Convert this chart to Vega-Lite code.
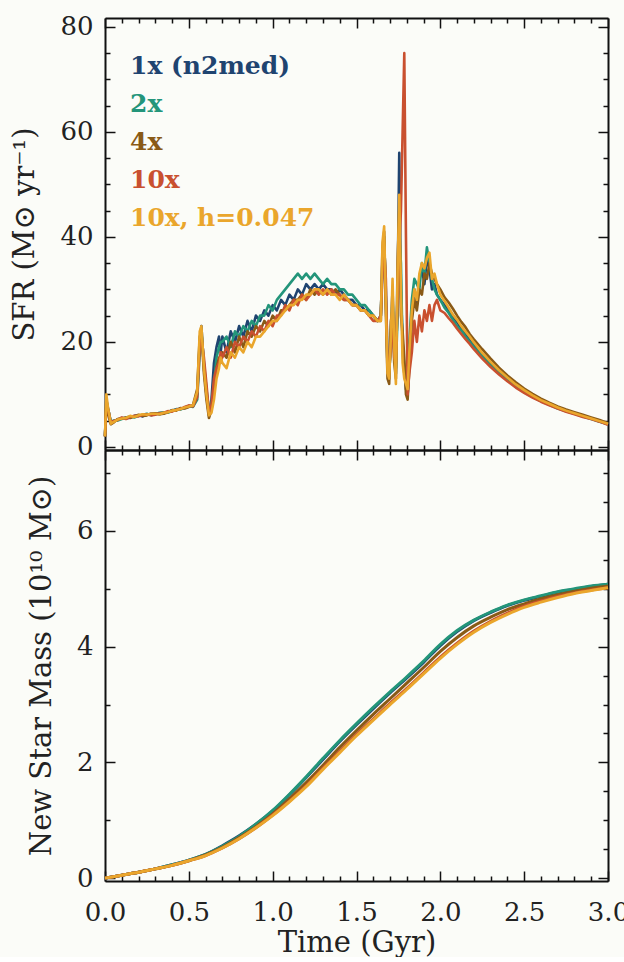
{
  "$schema": "https://vega.github.io/schema/vega-lite/v6.json",
  "background": "#fbfcf8",
  "padding": {"left": 10, "top": 13, "right": 0, "bottom": 0},
  "bounds": "flush",
  "spacing": 0,
  "config": {
    "view": {"stroke": null},
    "font": "DejaVu Serif",
    "axis": {
      "domainColor": "#111",
      "domainWidth": 2,
      "tickColor": "#111",
      "tickWidth": 1.5,
      "tickSize": -10,
      "grid": false,
      "labelFont": "DejaVu Serif",
      "labelFontSize": 26,
      "labelColor": "#222",
      "labelFlush": false,
      "labelOverlap": false,
      "titleFont": "DejaVu Serif",
      "titleFontSize": 29,
      "titleFontWeight": "normal",
      "titleColor": "#222"
    }
  },
  "datasets": {
    "sfr": [
      {"t":0,"a":2,"b":2,"c":2,"d":2,"e":2},
      {"t":0.008,"a":9,"b":8,"c":9,"d":8,"e":10},
      {"t":0.02,"a":7,"b":7,"c":6,"d":7,"e":7},
      {"t":0.035,"a":4.5,"b":4.8,"c":4.3,"d":4.6,"e":4.4},
      {"t":0.05,"a":4.8,"b":5,"c":4.6,"d":4.9,"e":4.7},
      {"t":0.075,"a":5.2,"b":5.0,"c":5.3,"d":5.1,"e":5.2},
      {"t":0.1,"a":5.5,"b":5.3,"c":5.4,"d":5.6,"e":5.4},
      {"t":0.125,"a":5.4,"b":5.6,"c":5.6,"d":5.3,"e":5.5},
      {"t":0.15,"a":5.6,"b":5.8,"c":5.5,"d":5.7,"e":5.9},
      {"t":0.175,"a":5.9,"b":5.6,"c":5.8,"d":5.9,"e":5.7},
      {"t":0.2,"a":6.0,"b":5.9,"c":6.1,"d":5.8,"e":6.0},
      {"t":0.225,"a":5.8,"b":6.1,"c":5.9,"d":6.1,"e":6.2},
      {"t":0.25,"a":6.1,"b":6.3,"c":6.0,"d":6.2,"e":6.1},
      {"t":0.275,"a":6.3,"b":6.0,"c":6.3,"d":6.0,"e":6.3},
      {"t":0.3,"a":6.3,"b":6.2,"c":6.4,"d":6.1,"e":6.3},
      {"t":0.325,"a":6.2,"b":6.5,"c":6.2,"d":6.4,"e":6.2},
      {"t":0.35,"a":6.4,"b":6.6,"c":6.3,"d":6.5,"e":6.5},
      {"t":0.375,"a":6.7,"b":6.5,"c":6.6,"d":6.8,"e":6.6},
      {"t":0.4,"a":6.9,"b":6.8,"c":7.0,"d":6.7,"e":6.9},
      {"t":0.425,"a":7.1,"b":7.2,"c":6.9,"d":7.1,"e":7.0},
      {"t":0.45,"a":7.3,"b":7.1,"c":7.4,"d":7.2,"e":7.2},
      {"t":0.475,"a":7.4,"b":7.5,"c":7.3,"d":7.6,"e":7.5},
      {"t":0.5,"a":7.7,"b":7.8,"c":7.6,"d":7.9,"e":7.7},
      {"t":0.525,"a":7.8,"b":7.6,"c":8.0,"d":7.7,"e":7.9},
      {"t":0.55,"a":10,"b":9,"c":11,"d":9.5,"e":10.5},
      {"t":0.565,"a":20,"b":18,"c":21,"d":19,"e":22},
      {"t":0.575,"a":23,"b":22,"c":22,"d":21,"e":23},
      {"t":0.59,"a":15,"b":16,"c":14,"d":17,"e":15},
      {"t":0.605,"a":10,"b":11,"c":9,"d":12,"e":10},
      {"t":0.62,"a":6,"b":7,"c":5.5,"d":6.5,"e":6},
      {"t":0.635,"a":9,"b":8,"c":7,"d":8,"e":6.5},
      {"t":0.65,"a":16,"b":12,"c":11,"d":13,"e":9},
      {"t":0.665,"a":19,"b":17,"c":15,"d":15,"e":13},
      {"t":0.68,"a":21,"b":19,"c":17,"d":16,"e":15},
      {"t":0.69,"a":18,"b":20,"c":16,"d":18,"e":17},
      {"t":0.7,"a":21,"b":20,"c":18,"d":17,"e":16},
      {"t":0.725,"a":18,"b":21,"c":17,"d":19,"e":15},
      {"t":0.75,"a":22,"b":19,"c":20,"d":17,"e":18},
      {"t":0.775,"a":20,"b":22,"c":18,"d":20,"e":17},
      {"t":0.8,"a":23,"b":21,"c":21,"d":19,"e":19},
      {"t":0.825,"a":21,"b":23,"c":19,"d":21,"e":18},
      {"t":0.85,"a":24,"b":22,"c":22,"d":20,"e":20},
      {"t":0.875,"a":22,"b":24,"c":21,"d":22,"e":19},
      {"t":0.9,"a":25,"b":23,"c":23,"d":21,"e":21},
      {"t":0.925,"a":24,"b":25,"c":22,"d":23,"e":21},
      {"t":0.95,"a":26,"b":25,"c":24,"d":22,"e":22},
      {"t":0.975,"a":25,"b":27,"c":23,"d":24,"e":23},
      {"t":1.0,"a":27,"b":26,"c":25,"d":23,"e":24},
      {"t":1.025,"a":26,"b":28,"c":24,"d":25,"e":24},
      {"t":1.05,"a":28,"b":29,"c":26,"d":25,"e":25},
      {"t":1.075,"a":27,"b":30,"c":26,"d":27,"e":26},
      {"t":1.1,"a":29,"b":31,"c":27,"d":26,"e":27},
      {"t":1.125,"a":28,"b":32,"c":28,"d":28,"e":27},
      {"t":1.15,"a":30,"b":33,"c":28,"d":27,"e":28},
      {"t":1.175,"a":29,"b":32,"c":29,"d":29,"e":28},
      {"t":1.2,"a":31,"b":33,"c":28,"d":28,"e":29},
      {"t":1.225,"a":30,"b":32,"c":30,"d":29,"e":29},
      {"t":1.25,"a":31,"b":33,"c":29,"d":30,"e":30},
      {"t":1.275,"a":30,"b":32,"c":30,"d":29,"e":30},
      {"t":1.3,"a":31,"b":31,"c":29,"d":30,"e":29},
      {"t":1.325,"a":30,"b":32,"c":30,"d":29,"e":30},
      {"t":1.35,"a":30,"b":31,"c":29,"d":30,"e":29},
      {"t":1.375,"a":29,"b":31,"c":30,"d":29,"e":29},
      {"t":1.4,"a":30,"b":30,"c":29,"d":29,"e":28},
      {"t":1.425,"a":29,"b":30,"c":28,"d":28,"e":29},
      {"t":1.45,"a":28,"b":29,"c":28,"d":28,"e":28},
      {"t":1.475,"a":28,"b":29,"c":27,"d":27,"e":27},
      {"t":1.5,"a":27,"b":28,"c":27,"d":27,"e":27},
      {"t":1.525,"a":27,"b":27,"c":26,"d":26,"e":26},
      {"t":1.55,"a":26,"b":27,"c":26,"d":26,"e":26},
      {"t":1.575,"a":26,"b":26,"c":25,"d":25,"e":25},
      {"t":1.6,"a":25,"b":25,"c":25,"d":24,"e":25},
      {"t":1.625,"a":24,"b":24,"c":24,"d":24,"e":24},
      {"t":1.645,"a":25,"b":25,"c":24,"d":25,"e":24},
      {"t":1.655,"a":36,"b":34,"c":38,"d":33,"e":39},
      {"t":1.665,"a":40,"b":39,"c":41,"d":38,"e":42},
      {"t":1.675,"a":28,"b":30,"c":26,"d":32,"e":27},
      {"t":1.685,"a":15,"b":17,"c":13,"d":16,"e":14},
      {"t":1.695,"a":13,"b":14,"c":12,"d":15,"e":13},
      {"t":1.705,"a":22,"b":20,"c":24,"d":19,"e":21},
      {"t":1.715,"a":30,"b":28,"c":26,"d":27,"e":32},
      {"t":1.725,"a":18,"b":21,"c":16,"d":17,"e":19},
      {"t":1.735,"a":14,"b":15,"c":13,"d":16,"e":12},
      {"t":1.745,"a":30,"b":25,"c":35,"d":28,"e":33},
      {"t":1.755,"a":56,"b":40,"c":45,"d":38,"e":48},
      {"t":1.765,"a":30,"b":35,"c":25,"d":45,"e":30},
      {"t":1.775,"a":20,"b":18,"c":22,"d":60,"e":16},
      {"t":1.785,"a":15,"b":14,"c":17,"d":75,"e":13},
      {"t":1.795,"a":11,"b":13,"c":10,"d":40,"e":12},
      {"t":1.805,"a":10,"b":12,"c":9,"d":10,"e":11},
      {"t":1.815,"a":16,"b":20,"c":15,"d":14,"e":18},
      {"t":1.83,"a":25,"b":28,"c":24,"d":18,"e":26},
      {"t":1.845,"a":30,"b":32,"c":28,"d":24,"e":30},
      {"t":1.86,"a":27,"b":31,"c":26,"d":20,"e":28},
      {"t":1.875,"a":32,"b":30,"c":30,"d":25,"e":33},
      {"t":1.89,"a":34,"b":35,"c":29,"d":22,"e":35},
      {"t":1.905,"a":31,"b":33,"c":33,"d":26,"e":34},
      {"t":1.92,"a":36,"b":38,"c":32,"d":24,"e":36},
      {"t":1.935,"a":34,"b":35,"c":35,"d":27,"e":37},
      {"t":1.95,"a":30,"b":32,"c":33,"d":24,"e":32},
      {"t":1.965,"a":31,"b":30,"c":32,"d":27,"e":33},
      {"t":1.98,"a":29,"b":29,"c":31,"d":28,"e":31},
      {"t":2.0,"a":28,"b":28,"c":30,"d":26,"e":29},
      {"t":2.025,"a":27,"b":26.5,"c":28.5,"d":25.5,"e":27.8},
      {"t":2.05,"a":26,"b":25.5,"c":27.5,"d":24.5,"e":26.5},
      {"t":2.075,"a":24.8,"b":24.2,"c":26.3,"d":23.6,"e":25.2},
      {"t":2.1,"a":23.8,"b":23,"c":25,"d":22.5,"e":24.2},
      {"t":2.125,"a":22.5,"b":22.2,"c":23.8,"d":21.5,"e":23},
      {"t":2.15,"a":21.4,"b":21,"c":22.8,"d":20.5,"e":22},
      {"t":2.175,"a":20.5,"b":20,"c":21.5,"d":19.6,"e":21},
      {"t":2.2,"a":19.4,"b":19,"c":20.5,"d":18.6,"e":19.9},
      {"t":2.25,"a":17.5,"b":17.2,"c":18.6,"d":16.8,"e":17.9},
      {"t":2.3,"a":15.8,"b":15.5,"c":16.8,"d":15.2,"e":16.2},
      {"t":2.35,"a":14.3,"b":14,"c":15.1,"d":13.8,"e":14.6},
      {"t":2.4,"a":12.9,"b":12.7,"c":13.6,"d":12.5,"e":13.2},
      {"t":2.45,"a":11.7,"b":11.5,"c":12.3,"d":11.3,"e":11.9},
      {"t":2.5,"a":10.6,"b":10.4,"c":11.1,"d":10.3,"e":10.8},
      {"t":2.55,"a":9.7,"b":9.5,"c":10.1,"d":9.4,"e":9.8},
      {"t":2.6,"a":8.8,"b":8.7,"c":9.2,"d":8.6,"e":8.9},
      {"t":2.65,"a":8.1,"b":8.0,"c":8.4,"d":7.9,"e":8.2},
      {"t":2.7,"a":7.5,"b":7.3,"c":7.7,"d":7.3,"e":7.5},
      {"t":2.75,"a":6.9,"b":6.8,"c":7.1,"d":6.7,"e":6.9},
      {"t":2.8,"a":6.4,"b":6.3,"c":6.6,"d":6.2,"e":6.4},
      {"t":2.85,"a":5.9,"b":5.8,"c":6.1,"d":5.7,"e":5.9},
      {"t":2.9,"a":5.4,"b":5.3,"c":5.6,"d":5.3,"e":5.4},
      {"t":2.95,"a":4.9,"b":4.8,"c":5.1,"d":4.8,"e":4.9},
      {"t":3.0,"a":4.3,"b":4.3,"c":4.5,"d":4.2,"e":4.4}
    ],
    "mass": [
      {"t":0.0,"a":0,"b":0,"c":0,"d":0,"e":0},
      {"t":0.1,"a":0.05,"b":0.05,"c":0.05,"d":0.05,"e":0.05},
      {"t":0.2,"a":0.1,"b":0.1,"c":0.1,"d":0.1,"e":0.1},
      {"t":0.3,"a":0.16,"b":0.16,"c":0.16,"d":0.16,"e":0.16},
      {"t":0.4,"a":0.23,"b":0.23,"c":0.22,"d":0.22,"e":0.22},
      {"t":0.5,"a":0.31,"b":0.31,"c":0.30,"d":0.30,"e":0.30},
      {"t":0.6,"a":0.41,"b":0.41,"c":0.40,"d":0.39,"e":0.39},
      {"t":0.7,"a":0.56,"b":0.55,"c":0.53,"d":0.52,"e":0.52},
      {"t":0.8,"a":0.73,"b":0.72,"c":0.70,"d":0.68,"e":0.68},
      {"t":0.9,"a":0.93,"b":0.93,"c":0.89,"d":0.87,"e":0.87},
      {"t":1.0,"a":1.16,"b":1.17,"c":1.11,"d":1.09,"e":1.08},
      {"t":1.1,"a":1.44,"b":1.45,"c":1.37,"d":1.33,"e":1.32},
      {"t":1.2,"a":1.74,"b":1.75,"c":1.65,"d":1.60,"e":1.58},
      {"t":1.3,"a":2.05,"b":2.07,"c":1.95,"d":1.90,"e":1.88},
      {"t":1.4,"a":2.36,"b":2.38,"c":2.26,"d":2.19,"e":2.17},
      {"t":1.5,"a":2.65,"b":2.67,"c":2.55,"d":2.48,"e":2.46},
      {"t":1.6,"a":2.93,"b":2.95,"c":2.83,"d":2.75,"e":2.73},
      {"t":1.7,"a":3.20,"b":3.22,"c":3.10,"d":3.02,"e":3.00},
      {"t":1.8,"a":3.46,"b":3.48,"c":3.37,"d":3.28,"e":3.26},
      {"t":1.9,"a":3.73,"b":3.75,"c":3.64,"d":3.55,"e":3.53},
      {"t":2.0,"a":4.02,"b":4.04,"c":3.92,"d":3.82,"e":3.80},
      {"t":2.1,"a":4.26,"b":4.28,"c":4.16,"d":4.06,"e":4.04},
      {"t":2.2,"a":4.45,"b":4.46,"c":4.36,"d":4.27,"e":4.25},
      {"t":2.3,"a":4.59,"b":4.60,"c":4.51,"d":4.44,"e":4.42},
      {"t":2.4,"a":4.71,"b":4.72,"c":4.64,"d":4.58,"e":4.56},
      {"t":2.5,"a":4.80,"b":4.81,"c":4.74,"d":4.70,"e":4.68},
      {"t":2.6,"a":4.87,"b":4.88,"c":4.83,"d":4.79,"e":4.77},
      {"t":2.7,"a":4.94,"b":4.95,"c":4.90,"d":4.87,"e":4.85},
      {"t":2.8,"a":4.99,"b":5.00,"c":4.96,"d":4.93,"e":4.92},
      {"t":2.9,"a":5.04,"b":5.05,"c":5.01,"d":4.98,"e":4.97},
      {"t":3.0,"a":5.08,"b":5.08,"c":5.05,"d":5.02,"e":5.02}
    ]
  },
  "resolve": {"scale": {"color": "independent"}, "legend": {"color": "independent"}},
  "vconcat": [
    {
      "width": 503,
      "height": 432,
      "data": {"name": "sfr"},
      "transform": [{"fold": ["a", "b", "c", "d", "e"], "as": ["series", "v"]}],
      "resolve": {"scale": {"x": "independent", "y": "independent"}},
      "layer": [
        {
          "mark": {"type": "line", "strokeWidth": 2.6, "strokeJoin": "round"},
          "encoding": {
            "x": {"field": "t", "type": "quantitative", "scale": {"domain": [0, 3], "nice": false, "zero": false},
              "axis": {"orient": "bottom", "title": null, "labels": false,
                "values": [0,0.1,0.2,0.3,0.4,0.5,0.6,0.7,0.8,0.9,1,1.1,1.2,1.3,1.4,1.5,1.6,1.7,1.8,1.9,2,2.1,2.2,2.3,2.4,2.5,2.6,2.7,2.8,2.9,3],
                "tickDash": {"condition": {"test": "abs(datum.value*2-round(datum.value*2))<0.001", "value": [20, 0]}, "value": [5, 100]}}},
            "y": {"field": "v", "type": "quantitative", "scale": {"domain": [-0.6, 81.7], "nice": false, "zero": false},
              "axis": {"orient": "left", "title": "SFR (M⊙ yr⁻¹)", "titlePadding": 20, "format": "d", "labelPadding": 22,
                "values": [0,5,10,15,20,25,30,35,40,45,50,55,60,65,70,75,80],
                "labelExpr": "datum.value % 20 === 0 ? datum.label : ''",
                "tickDash": {"condition": {"test": "datum.value % 20 === 0", "value": [20, 0]}, "value": [5, 100]}}},
            "color": {"field": "series", "type": "nominal",
              "scale": {"domain": ["a", "b", "c", "d", "e"], "range": ["#1f4470", "#23957a", "#8a5a16", "#c9502f", "#eaa62c"]},
              "legend": {
                "orient": "none", "legendX": 0, "legendY": 35, "title": null, "padding": 0,
                "symbolSize": 0, "symbolOpacity": 0, "symbolStrokeWidth": 0, "labelOffset": 0,
                "labelFont": "DejaVu Serif", "labelFontSize": 25, "labelFontWeight": "bold",
                "rowPadding": 12, "labelLimit": 400,
                "labelExpr": "{'a':'1x (n2med)','b':'2x','c':'4x','d':'10x','e':'10x, h=0.047'}[datum.label]",
                "encode": {"labels": {"update": {"fill": {"signal": "datum.value==='a'?'#1f4470':datum.value==='b'?'#23957a':datum.value==='c'?'#8a5a16':datum.value==='d'?'#c9502f':'#eaa62c'"}}}}
              }}
          }
        },
        {
          "mark": {"type": "line", "opacity": 0},
          "encoding": {
            "detail": {"field": "series"},
            "x": {"field": "t", "type": "quantitative", "scale": {"domain": [0, 3], "nice": false, "zero": false},
              "axis": {"orient": "top", "title": null, "labels": false,
                "values": [0,0.1,0.2,0.3,0.4,0.5,0.6,0.7,0.8,0.9,1,1.1,1.2,1.3,1.4,1.5,1.6,1.7,1.8,1.9,2,2.1,2.2,2.3,2.4,2.5,2.6,2.7,2.8,2.9,3],
                "tickDash": {"condition": {"test": "abs(datum.value*2-round(datum.value*2))<0.001", "value": [20, 0]}, "value": [5, 100]}}},
            "y": {"field": "v", "type": "quantitative", "scale": {"domain": [-0.6, 81.7], "nice": false, "zero": false},
              "axis": {"orient": "right", "title": null, "labels": false,
                "values": [0,5,10,15,20,25,30,35,40,45,50,55,60,65,70,75,80],
                "tickDash": {"condition": {"test": "datum.value % 20 === 0", "value": [20, 0]}, "value": [5, 100]}}}
          }
        }
      ]
    },
    {
      "width": 503,
      "height": 431,
      "data": {"name": "mass"},
      "transform": [{"fold": ["a", "b", "c", "d", "e"], "as": ["series", "v"]}],
      "resolve": {"scale": {"x": "independent", "y": "independent"}},
      "layer": [
        {
          "mark": {"type": "line", "strokeWidth": 3, "interpolate": "monotone"},
          "encoding": {
            "x": {"field": "t", "type": "quantitative", "scale": {"domain": [0, 3], "nice": false, "zero": false},
              "axis": {"orient": "bottom", "title": "Time (Gyr)", "titlePadding": 3, "format": ".1f", "labelPadding": 28,
                "values": [0,0.1,0.2,0.3,0.4,0.5,0.6,0.7,0.8,0.9,1,1.1,1.2,1.3,1.4,1.5,1.6,1.7,1.8,1.9,2,2.1,2.2,2.3,2.4,2.5,2.6,2.7,2.8,2.9,3],
                "labelExpr": "abs(datum.value*2-round(datum.value*2))<0.001 ? datum.label : ''",
                "tickDash": {"condition": {"test": "abs(datum.value*2-round(datum.value*2))<0.001", "value": [20, 0]}, "value": [5, 100]}}},
            "y": {"field": "v", "type": "quantitative", "scale": {"domain": [-0.05, 7.4], "nice": false, "zero": false},
              "axis": {"orient": "left", "title": "New Star Mass (10¹⁰ M⊙)", "titlePadding": 20, "format": "d", "labelPadding": 22,
                "values": [0,0.5,1,1.5,2,2.5,3,3.5,4,4.5,5,5.5,6,6.5,7],
                "labelExpr": "datum.value % 2 === 0 ? datum.label : ''",
                "tickDash": {"condition": {"test": "datum.value % 2 === 0", "value": [20, 0]}, "value": [5, 100]}}},
            "color": {"field": "series", "type": "nominal",
              "scale": {"domain": ["a", "b", "c", "d", "e"], "range": ["#1f4470", "#23957a", "#8a5a16", "#c9502f", "#eaa62c"]},
              "legend": null}
          }
        },
        {
          "mark": {"type": "line", "opacity": 0},
          "encoding": {
            "detail": {"field": "series"},
            "x": {"field": "t", "type": "quantitative", "scale": {"domain": [0, 3], "nice": false, "zero": false},
              "axis": {"orient": "top", "title": null, "labels": false,
                "values": [0,0.1,0.2,0.3,0.4,0.5,0.6,0.7,0.8,0.9,1,1.1,1.2,1.3,1.4,1.5,1.6,1.7,1.8,1.9,2,2.1,2.2,2.3,2.4,2.5,2.6,2.7,2.8,2.9,3],
                "tickDash": {"condition": {"test": "abs(datum.value*2-round(datum.value*2))<0.001", "value": [20, 0]}, "value": [5, 100]}}},
            "y": {"field": "v", "type": "quantitative", "scale": {"domain": [-0.05, 7.4], "nice": false, "zero": false},
              "axis": {"orient": "right", "title": null, "labels": false,
                "values": [0,0.5,1,1.5,2,2.5,3,3.5,4,4.5,5,5.5,6,6.5,7],
                "tickDash": {"condition": {"test": "datum.value % 2 === 0", "value": [20, 0]}, "value": [5, 100]}}}
          }
        }
      ]
    }
  ]
}
